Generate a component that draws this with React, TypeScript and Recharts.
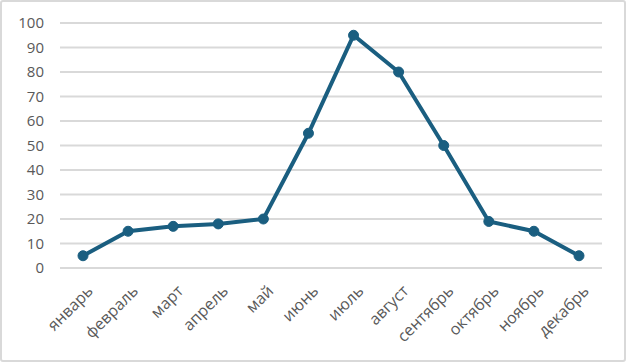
import React from "react";
import { LineChart, Line, XAxis, YAxis, CartesianGrid } from "recharts";

const months = ["январь", "февраль", "март", "апрель", "май", "июнь", "июль", "август", "сентябрь", "октябрь", "ноябрь", "декабрь"];
const values = [5, 15, 17, 18, 20, 55, 95, 80, 50, 19, 15, 5];
const yTicks = [0, 10, 20, 30, 40, 50, 60, 70, 80, 90, 100];

const data = months.map((m, i) => ({ month: m, value: values[i] }));

const FONT = "'Open Sans', sans-serif";

export default function App() {
  return (
    <div style={{ position: "fixed", left: 0, top: 0, width: 626, height: 362, background: "#fff" }}>
      <div
        style={{
          position: "absolute",
          left: 0,
          top: 0,
          width: 626,
          height: 362,
          boxSizing: "border-box",
          border: "2px solid #d9d9d9",
          borderRadius: 3,
        }}
      />
      <div style={{ position: "absolute", left: 0, top: 0 }}>
        <LineChart width={626} height={362} data={data} margin={{ top: 23, right: 24, bottom: 0, left: 0 }}>
          <CartesianGrid vertical={false} stroke="#d9d9d9" strokeWidth={2} />
          <XAxis
            dataKey="month"
            axisLine={false}
            tickLine={false}
            interval={0}
            height={94}
            padding={{ left: 23, right: 23 }}
            tickSize={0}
            tickMargin={16}
            angle={-45}
            textAnchor="end"
            tick={{ fill: "#595959", fontSize: 16, fontFamily: FONT, dx: 3 }}
          />
          <YAxis
            domain={[0, 100]}
            ticks={yTicks}
            width={60}
            axisLine={false}
            tickLine={false}
            tickSize={0}
            tickMargin={16}
            tick={{ fill: "#595959", fontSize: 15, fontFamily: FONT }}
          />
          <Line
            type="linear"
            dataKey="value"
            stroke="#1a5e80"
            strokeWidth={4}
            dot={{ r: 5, fill: "#1a5e80", stroke: "#1a5e80", strokeWidth: 1 }}
            isAnimationActive={false}
          />
        </LineChart>
      </div>
    </div>
  );
}
